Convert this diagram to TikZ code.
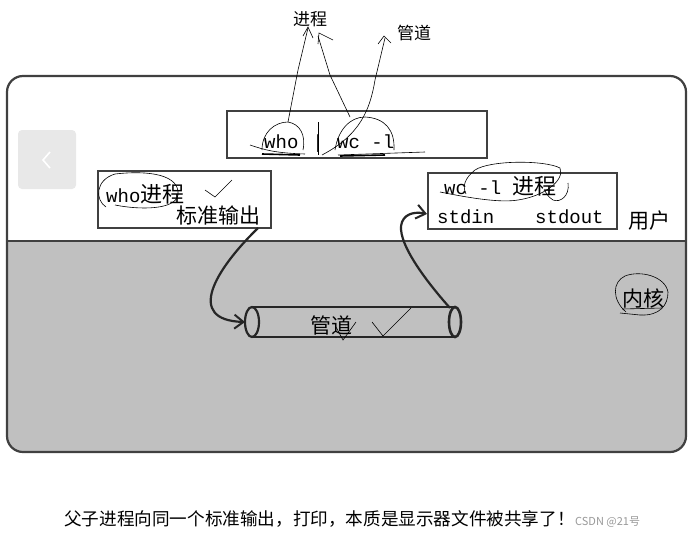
\documentclass[tikz,border=0pt]{standalone}
\usepackage{fontspec}
\newfontfamily\cjk{Noto Sans CJK SC}
\newfontfamily\mono{Liberation Mono}
\usetikzlibrary{arrows.meta}
\definecolor{kgray}{HTML}{C0C0C0}
\definecolor{frame}{HTML}{404040}
\definecolor{btn}{HTML}{E8E8E8}
\tikzset{
  sketch/.style={draw=frame,line width=2.2pt},
  boxst/.style={draw=frame,line width=2pt,fill=white},
  pen/.style={draw=black,line width=0.6pt},
  lbl/.style={font=\cjk\fontsize{17}{19}\selectfont,inner sep=0pt},
  big/.style={font=\cjk\fontsize{21}{23}\selectfont,inner sep=0pt},
  code/.style={font=\mono\fontsize{19}{21}\selectfont,inner sep=0pt},
  pipeline/.style={draw=black!85,line width=2.6pt},
  flow/.style={draw=black!85,line width=2.2pt,-{Straight Barb[length=9pt,width=14pt,line width=2pt]}},
}
\begin{document}
\begin{tikzpicture}[x=1pt,y=-1pt]
\useasboundingbox (0,0) rectangle (693,536);
\fill[white] (0,0) rectangle (693,536);
% main frame
\begin{scope}
\clip[rounded corners=16pt] (7,76) rectangle (686,452);
\fill[white] (7,76) rectangle (686,241);
\fill[kgray] (7,241) rectangle (686,452);
\end{scope}
\draw[sketch,rounded corners=16pt] (7,76) rectangle (686,452);
\draw[sketch,line width=1.8pt] (7,241) -- (686,241);
% button
\fill[btn,rounded corners=4pt] (18,130) rectangle (76,189);
\draw[white,line width=1.6pt] (50,152) -- (43,160) -- (50,168);
% top command box
\node[boxst,minimum width=260pt,minimum height=47pt,anchor=north west] (cmd) at (226,110) {};
\node[code,anchor=base west] (who) at (264,148) {who};
\node[code,anchor=base] (bar) at (318,148) {|};
\node[code,anchor=base west] (wc) at (337,148) {wc -l};
% labels above
\node[lbl] (jc) at (310,19) {进程};
\node[lbl] (gd) at (414,33) {管道};
% who process box
\node[boxst,minimum width=173pt,minimum height=57pt,anchor=north west] (whobox) at (97,170) {};
\node[code,anchor=base west] (whot) at (106,202) {who{\cjk\fontsize{22}{24}\selectfont 进程}};
\node[big,anchor=base west] (stdo) at (176,223) {标准输出};
% wc process box
\node[boxst,minimum width=189pt,minimum height=56pt,anchor=north west] (wcbox) at (427,172) {};
\node[code,anchor=base west] (wct) at (444,194) {wc -l {\cjk\fontsize{22}{24}\selectfont 进程}};
\node[code,anchor=base west] (sin) at (437,223) {stdin};
\node[code,anchor=base west] (sout) at (535,223) {stdout};
\node[big] (user) at (649,221) {用户};
\node[big] (kern) at (643,298) {内核};
% pipe
\coordinate (pl) at (252,322);
\coordinate (pr) at (455,322);
\coordinate (pin) at (245,322);
\draw[pipeline] (252,307) -- (455,307);
\draw[pipeline] (252,337) -- (455,337);
\draw[pipeline,line width=2.2pt] (pl) ellipse[x radius=7,y radius=15];
\draw[pipeline,line width=2.6pt] (pr) ellipse[x radius=6,y radius=15];
\node[big] (pipe) at (331,325) {管道};
% flows
\draw[flow] (258,228) .. controls (215,270) and (185,320) .. (pin);
\draw[flow] (450,308) .. controls (425,280) and (395,240) .. (402,222) .. controls (406,212) and (418,212) .. (427,214);
% hand-drawn pen marks
\draw[pen] (262,150) .. controls (262,132) and (275,122) .. (288,122) .. controls (300,124) and (306,135) .. (303,150);
\draw[pen] (288,122) -- (298,70) -- (308,28);
\draw[pen] (303,36) -- (308,27) -- (313,38);
\draw[pen] (335,150) .. controls (338,130) and (350,117) .. (365,117) .. controls (385,118) and (395,130) .. (394,150);
\draw[pen] (350,117) -- (330,75) -- (318,36);
\draw[pen] (318,44) -- (319,33) -- (333,40);
\draw[pen] (322,155) .. controls (360,135) and (370,110) .. (375,80) -- (385,38);
\draw[pen] (378,44) -- (384,36) -- (391,43);
\draw[pen] (250,145) .. controls (265,150) and (275,153) .. (305,154);
\draw[pen] (338,155) -- (425,152);
\draw[black,line width=1.6pt] (262,154) -- (300,155);
\draw[black,line width=1.6pt] (340,156) -- (385,155);
\draw[pen] (318,122) -- (318,155);
\draw[pen] (106,207) .. controls (95,200) and (95,180) .. (115,174) .. controls (150,170) and (180,175) .. (178,195) .. controls (175,210) and (140,210) .. (115,205);
\draw[pen] (205,190) -- (215,197) -- (232,180);
\draw[pen] (440,192) .. controls (470,198) and (500,203) .. (518,200) .. controls (545,196) and (565,180) .. (560,168) .. controls (545,160) and (490,160) .. (475,170) .. controls (465,178) and (462,186) .. (466,194);
\draw[pen] (568,183) .. controls (570,196) and (560,203) .. (553,200) .. controls (548,197) and (545,192) .. (545,190);
\draw[pen] (336,327) -- (343,340) -- (356,322);
\draw[pen] (372,322) -- (383,336) -- (411,308);
\draw[pen] (626,312) .. controls (612,300) and (612,282) .. (625,276) .. controls (640,270) and (665,276) .. (668,292) .. controls (668,305) and (660,316) .. (640,315) -- (620,313);
\draw[pen] (622,309) -- (662,308);
% caption
\node[font=\cjk\fontsize{17.6}{19}\selectfont,anchor=base west,inner sep=0pt] (cap) at (64,525) {父子进程向同一个标准输出，打印，本质是显示器文件被共享了！};
\node[font=\cjk\fontsize{11}{12}\selectfont,text=black!40,anchor=base west,inner sep=0pt] (wm) at (575,525) {CSDN @21号};
\end{tikzpicture}
\end{document}
